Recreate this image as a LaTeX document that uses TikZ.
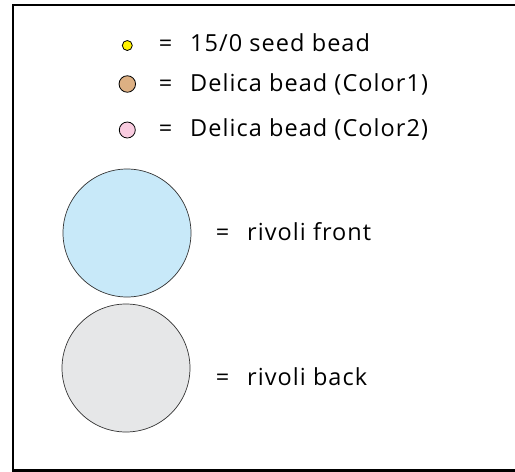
\documentclass[tikz,border=0pt]{standalone}
\usepackage{fontspec}
\setmainfont{Open Sans}[LetterSpace=4.5]
\definecolor{beadyellow}{HTML}{FFF200}
\definecolor{beadtan}{HTML}{DDB083}
\definecolor{beadpink}{HTML}{F9CCE0}
\definecolor{rivoliblue}{HTML}{C8E9F9}
\definecolor{rivoligray}{HTML}{E6E7E8}
\tikzset{
  bead/.style={circle, draw=black, line width=0.8pt, inner sep=0pt},
  rivoli/.style={circle, draw=black!80, line width=0.7pt, inner sep=0pt, minimum size=128pt},
  lbl/.style={anchor=base west, inner sep=0pt, font=\fontsize{23.5}{27}\selectfont},
  eq/.style={anchor=base, inner sep=0pt, font=\fontsize{23.5}{27}\selectfont},
  frameline/.style={line width=2.2pt, line cap=rect},
}
\begin{document}
\begin{tikzpicture}[x=1pt,y=-1pt]
\useasboundingbox (0,0) rectangle (515,472);
\clip (0,0) rectangle (515,472);
\coordinate (fbl) at (13,470.5);
\coordinate (ftl) at (13,5);
\coordinate (ftr) at (520,5);
\coordinate (fbr) at (520,470.5);
\draw[frameline] (ftr) -- (ftl) -- (fbl) -- (fbr);
% small beads
\node[bead, fill=beadyellow, minimum size=10pt] (b1) at (127.3,45.5) {};
\node[bead, fill=beadtan, minimum size=16.5pt] (b2) at (127.3,84) {};
\node[bead, fill=beadpink, minimum size=16pt] (b3) at (127.3,130) {};
\node[eq] (e1) at (165.5,51.7) {=};
\node[eq] (e2) at (165.5,91.7) {=};
\node[eq] (e3) at (165.5,136.7) {=};
\node[lbl] (t1) at (190,51.7) {15/0 seed bead};
\node[lbl] (t2) at (190,91.7) {Delica bead (Color1)};
\node[lbl] (t3) at (190,136.7) {Delica bead (Color2)};
% rivolis
\node[rivoli, fill=rivoliblue] (r1) at (127,233) {};
\node[rivoli, fill=rivoligray] (r2) at (126,368) {};
\node[eq] (e4) at (222.5,240) {=};
\node[eq] (e5) at (222.5,385) {=};
\node[lbl] (t4) at (247,240) {rivoli front};
\node[lbl] (t5) at (247,385) {rivoli back};
\end{tikzpicture}
\end{document}
